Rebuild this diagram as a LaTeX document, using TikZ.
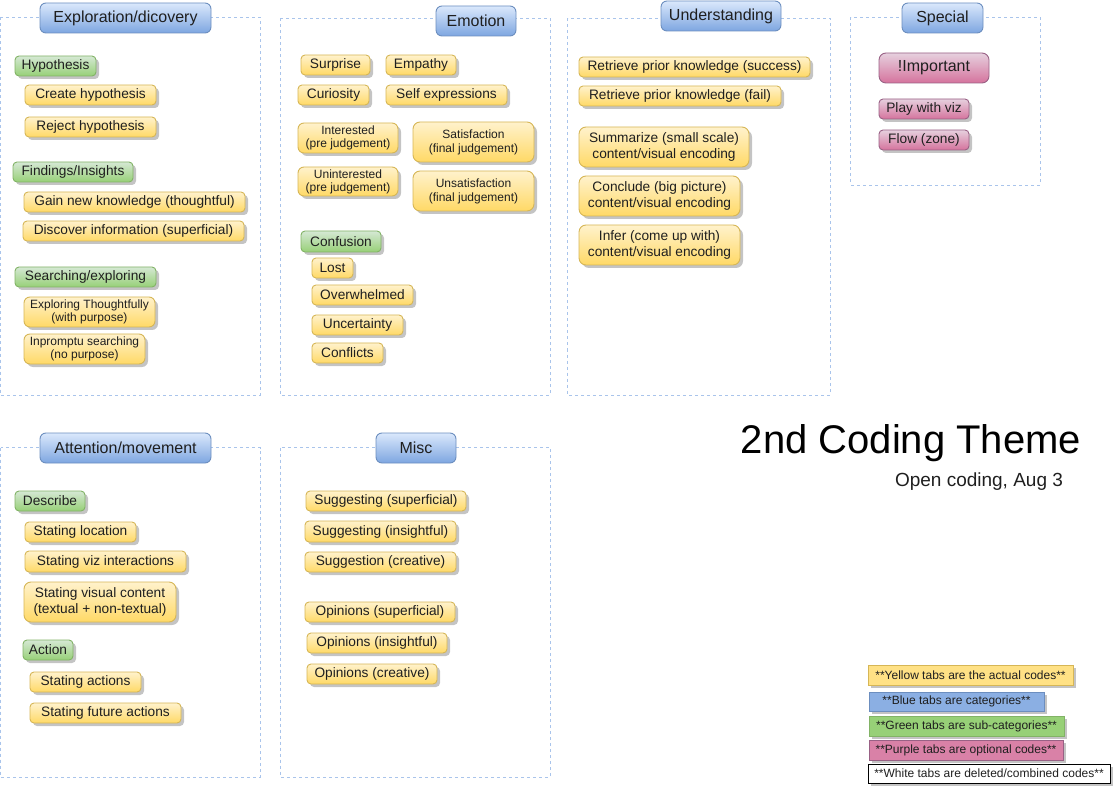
\documentclass[tikz,border=0pt]{standalone}
\usepackage{fontspec}
\setmainfont{Liberation Sans}
\usetikzlibrary{shadows}
\definecolor{ytop}{HTML}{FFF2CC}\definecolor{ybot}{HTML}{FFD966}\definecolor{ystr}{HTML}{D6B656}
\definecolor{btop}{HTML}{DAE8FC}\definecolor{bbot}{HTML}{7EA6E0}\definecolor{bstr}{HTML}{6C8EBF}
\definecolor{gtop}{HTML}{D5E8D4}\definecolor{gbot}{HTML}{97D077}\definecolor{gstr}{HTML}{82B366}
\definecolor{ptop}{HTML}{E6D0DE}\definecolor{pbot}{HTML}{D5739D}\definecolor{pstr}{HTML}{996185}
\definecolor{contc}{HTML}{A9C4EB}
\definecolor{shgray}{HTML}{C4C4C4}
\newcommand{\tb}[7]{%
  \pgfmathsetmacro\tbCX{(#3+#5)/2}\pgfmathsetmacro\tbCY{(#4+#6)/2}%
  \pgfmathsetmacro\tbW{#5-#3}\pgfmathsetmacro\tbH{#6-#4}%
  \node[#1, minimum width=\tbW pt, minimum height=\tbH pt] (#2) at (\tbCX,\tbCY) {#7};}
\tikzset{
  tabbase/.style={rounded corners=4pt, line width=0.9pt, inner sep=0pt, align=center,
    font=\fontsize{13.7}{16}\selectfont, text=black!88},
  shad/.style={drop shadow={shadow xshift=3pt, shadow yshift=-3pt, fill=shgray, opacity=1}},
  ytab/.style={tabbase, shad, draw=ystr, top color=ytop, bottom color=ybot},
  ytall/.style={ytab, rounded corners=7pt},
  ysmall/.style={ytab, rounded corners=6pt, font=\fontsize{12}{13}\selectfont},
  ysmall2/.style={ytab, rounded corners=7pt, font=\fontsize{12}{14}\selectfont},
  gtab/.style={tabbase, shad, draw=gstr, top color=gtop, bottom color=gbot},
  ptab/.style={tabbase, shad, draw=pstr, top color=ptop, bottom color=pbot},
  pbig/.style={tabbase, rounded corners=7pt, draw=pstr, top color=ptop, bottom color=pbot, font=\fontsize{16}{18}\selectfont},
  cat/.style={tabbase, rounded corners=6pt, draw=bstr, top color=btop, bottom color=bbot, font=\fontsize{16}{18}\selectfont},
  cont/.style={draw=contc, line width=0.9pt, dash pattern=on 3pt off 3pt},
  legbase/.style={inner sep=0pt, line width=0.9pt, shad, font=\fontsize{12}{14}\selectfont, text=black!88},
  lyel/.style={legbase, draw=ystr, fill=ybot!80!white},
  lblu/.style={legbase, draw=bstr, fill=bbot!90!white},
  lgre/.style={legbase, draw=gstr, fill=gbot},
  lpur/.style={legbase, draw=pstr, fill=pbot!90!white},
  lwhi/.style={legbase, draw=black, fill=white},
}
\begin{document}
\begin{tikzpicture}[x=1pt, y=-1pt]
\useasboundingbox (0,0) rectangle (1113,791);
% containers
\draw[cont] (0.5,17.5) rectangle (260,395);
\draw[cont] (280.5,18.5) rectangle (550,395);
\draw[cont] (567.5,18.5) rectangle (830,395);
\draw[cont] (850.5,17.5) rectangle (1040,185);
\draw[cont] (0.5,447.5) rectangle (260,777);
\draw[cont] (280.5,447.5) rectangle (550,777);
% categories
\tb{cat}{cExp}{40}{3}{211}{33}{Exploration/dicovery}
\tb{cat}{cEmo}{436}{6}{516}{36}{Emotion}
\tb{cat}{cUnd}{661}{1}{781}{31}{Understanding}
\tb{cat}{cSpe}{902}{3}{983}{33}{Special}
\tb{cat}{cAtt}{40}{433}{211}{463}{Attention/movement}
\tb{cat}{cMis}{376}{433}{456}{463}{Misc}
% exploration
\tb{gtab}{gHyp}{15}{56}{96}{76}{Hypothesis}
\tb{ytab}{yCre}{25}{85}{156}{105}{Create hypothesis}
\tb{ytab}{yRej}{25}{117}{156}{137}{Reject hypothesis}
\tb{gtab}{gFin}{13}{162}{133}{182}{Findings/Insights}
\tb{ytab}{yGai}{24}{192}{245}{212}{Gain new knowledge (thoughtful)}
\tb{ytab}{yDis}{23}{221}{244}{241}{Discover information (superficial)}
\tb{gtab}{gSea}{15}{267}{156}{287}{Searching/exploring}
\tb{ysmall}{yExp}{24}{297}{155}{327}{Exploring Thoughtfully\\(with purpose)}
\tb{ysmall}{yInp}{24}{334}{145}{364}{Inpromptu searching\\(no purpose)}
% emotion
\tb{ytab}{ySur}{301}{55}{370}{75}{Surprise}
\tb{ytab}{yEmp}{386}{55}{456}{75}{Empathy}
\tb{ytab}{yCur}{298}{85}{369}{105}{Curiosity}
\tb{ytab}{ySel}{386}{85}{507}{105}{Self expressions}
\tb{ysmall}{yInt}{298}{123}{398}{153}{Interested\\(pre judgement)}
\tb{ysmall2}{ySat}{413}{122}{534}{162}{Satisfaction\\(final judgement)}
\tb{ysmall}{yUni}{298}{167}{398}{196}{Uninterested\\(pre judgement)}
\tb{ysmall2}{yUns}{413}{171}{534}{211}{Unsatisfaction\\(final judgement)}
\tb{gtab}{gCon}{301}{231}{381}{252}{Confusion}
\tb{ytab}{yLos}{312}{258}{353}{278}{Lost}
\tb{ytab}{yOve}{312}{285}{413}{305}{Overwhelmed}
\tb{ytab}{yUnc}{312}{315}{403}{335}{Uncertainty}
\tb{ytab}{yCof}{312}{343}{383}{363}{Conflicts}
% understanding
\tb{ytab}{yRs}{579}{57}{810}{77}{Retrieve prior knowledge (success)}
\tb{ytab}{yRf}{579}{86}{781}{106}{Retrieve prior knowledge (fail)}
\tb{ytall}{ySum}{579}{127}{749}{167}{Summarize (small scale)\\content/visual encoding}
\tb{ytall}{yCol}{579}{176}{740}{216}{Conclude (big picture)\\content/visual encoding}
\tb{ytall}{yInf}{579}{225}{740}{265}{Infer (come up with)\\content/visual encoding}
% special
\tb{pbig}{pImp}{879}{53}{989}{83}{!Important}
\tb{ptab}{pPla}{879}{99}{969}{119}{Play with viz}
\tb{ptab}{pFlo}{879}{130}{969}{150}{Flow (zone)}
% attention
\tb{gtab}{gDes}{15}{491}{85}{511}{Describe}
\tb{ytab}{ySlo}{25}{522}{136}{542}{Stating location}
\tb{ytab}{ySvi}{25}{551}{186}{572}{Stating viz interactions}
\tb{ytall}{ySvc}{24}{582}{176}{622}{Stating visual content\\(textual + non-textual)}
\tb{gtab}{gAct}{23}{640}{73}{660}{Action}
\tb{ytab}{ySac}{30}{672}{141}{692}{Stating actions}
\tb{ytab}{ySfa}{30}{703}{181}{723}{Stating future actions}
% misc
\tb{ytab}{mSs}{306}{491}{466}{511}{Suggesting (superficial)}
\tb{ytab}{mSi}{305}{521}{456}{542}{Suggesting (insightful)}
\tb{ytab}{mSc}{305}{552}{456}{572}{Suggestion (creative)}
\tb{ytab}{mOs}{305}{602}{455}{622}{Opinions (superficial)}
\tb{ytab}{mOi}{307}{633}{447}{653}{Opinions (insightful)}
\tb{ytab}{mOc}{307}{664}{437}{684}{Opinions (creative)}
% title
\node[anchor=base, inner sep=0pt, font=\fontsize{40}{44}\selectfont] (title) at (911,453) {2nd Coding Theme};
\node[anchor=base, inner sep=0pt, font=\fontsize{19}{22}\selectfont, text=black!88] (subtitle) at (979,486) {Open coding, Aug 3};
% legend
\tb{lyel}{lY}{868}{665}{1073}{685}{**Yellow tabs are the actual codes**}
\tb{lblu}{lB}{869}{692}{1044}{711}{**Blue tabs are categories**}
\tb{lgre}{lG}{869}{716}{1064}{736}{**Green tabs are sub-categories**}
\tb{lpur}{lP}{869}{740}{1063}{760}{**Purple tabs are optional codes**}
\tb{lwhi}{lW}{868}{764}{1110}{783}{**White tabs are deleted/combined codes**}
\end{tikzpicture}
\end{document}
